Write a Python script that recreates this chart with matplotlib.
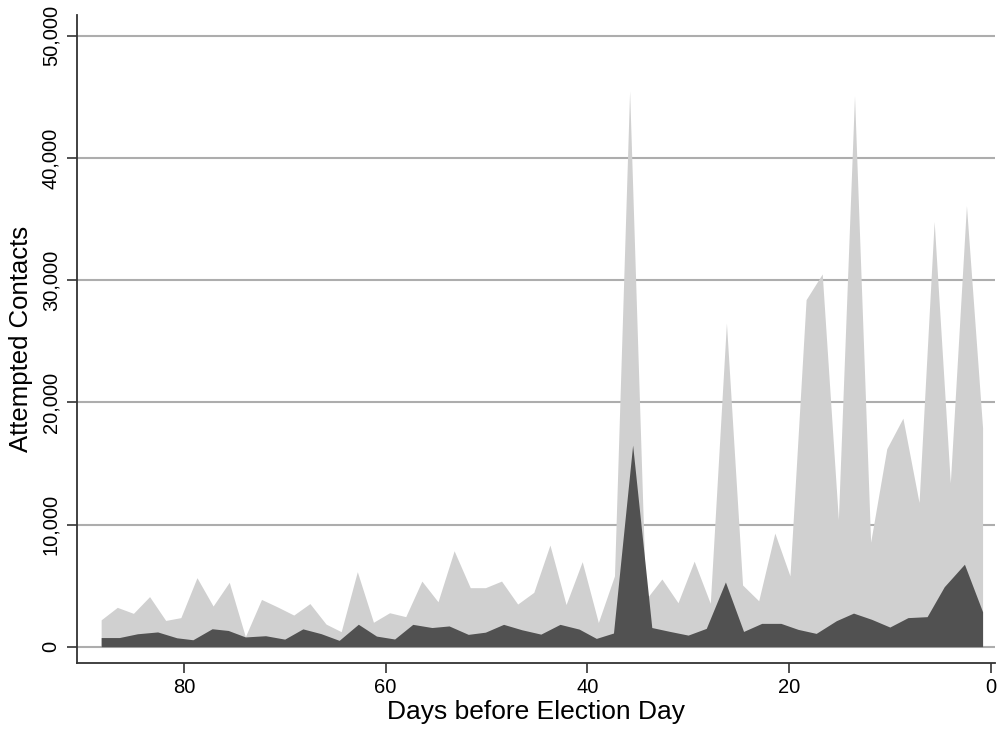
import matplotlib
matplotlib.use("Agg")
import matplotlib.pyplot as plt
from matplotlib.ticker import FuncFormatter

# Total attempted contacts (light grey area)
total_days = [88.2, 86.6, 85.0, 83.4, 81.8, 80.3, 78.7, 77.1, 75.5, 73.9,
              72.3, 70.7, 69.1, 67.5, 65.9, 64.4, 62.8, 61.2, 59.6, 58.0,
              56.4, 54.8, 53.2, 51.6, 50.1, 48.5, 46.9, 45.3, 43.7, 42.1,
              40.5, 38.9, 37.3, 35.8, 34.2, 32.6, 31.0, 29.4, 27.8, 26.2,
              24.6, 23.0, 21.4, 19.9, 18.3, 16.7, 15.1, 13.5, 11.9, 10.3,
              8.7, 7.1, 5.6, 4.0, 2.4, 0.8]
total_contacts = [2200, 3220, 2730, 4100, 2150, 2380, 5650, 3330, 5270, 820,
                  3870, 3250, 2590, 3530, 1850, 1230, 6140, 2000, 2780, 2460,
                  5370, 3680, 7850, 4830, 4830, 5370, 3490, 4450, 8320, 3450,
                  6960, 1980, 5800, 45500, 3850, 5540, 3600, 7000, 3550, 26500,
                  5050, 3760, 9300, 5800, 28400, 30500, 10400, 45100, 8550, 16200,
                  18700, 11800, 34800, 13400, 36100, 17900]

# Subset of contacts (dark grey area)
subset_days = [88.2, 86.4, 84.6, 82.6, 80.7, 79.1, 77.2, 75.6, 73.9, 71.9,
               70.0, 68.2, 66.4, 64.6, 62.7, 60.9, 59.1, 57.3, 55.4, 53.7,
               51.8, 50.1, 48.3, 46.5, 44.6, 42.7, 40.8, 39.1, 37.4, 35.5,
               33.6, 31.8, 30.0, 28.2, 26.3, 24.5, 22.7, 20.8, 19.1, 17.3,
               15.3, 13.6, 11.8, 10.0, 8.2, 6.3, 4.6, 2.6, 0.8]
subset_contacts = [750, 750, 1060, 1210, 730, 570, 1470, 1330, 800, 900,
                   620, 1460, 1070, 520, 1840, 870, 630, 1830, 1570, 1700,
                   1010, 1190, 1830, 1390, 1030, 1830, 1440, 680, 1120, 16500,
                   1570, 1250, 950, 1500, 5300, 1250, 1910, 1910, 1420, 1090,
                   2130, 2750, 2240, 1610, 2380, 2460, 4910, 6750, 2860]

x_ticks = [80, 60, 40, 20, 0]
y_ticks = [0, 10000, 20000, 30000, 40000, 50000]

plt.rcParams['font.family'] = ['Liberation Sans', 'DejaVu Sans']

fig = plt.figure(figsize=(10.02, 7.31), dpi=100)
ax = fig.add_axes([0.0768, 0.093, 0.9162, 0.8865])

ax.fill_between(total_days, 0, total_contacts, color='#d0d0d0', lw=0, zorder=2)
ax.fill_between(subset_days, 0, subset_contacts, color='#515151', lw=0, zorder=3)

ax.set_xlim(90.6, -0.43)
ax.set_ylim(-1334, 51694)
ax.set_xticks(x_ticks)
ax.set_yticks(y_ticks)
ax.yaxis.set_major_formatter(FuncFormatter(lambda v, p: f"{int(v):,}"))
ax.yaxis.grid(True, color='#adadad', lw=1.5, zorder=1)
ax.set_axisbelow(True)

for s in ['top', 'right']:
    ax.spines[s].set_visible(False)
for s in ['left', 'bottom']:
    ax.spines[s].set_color('#333333')
    ax.spines[s].set_linewidth(1.3)

ax.tick_params(axis='both', colors='#333333', width=1.2, length=7,
               labelsize=14.5, labelcolor='black')
ax.tick_params(axis='y', pad=5)
ax.tick_params(axis='x', pad=4)
for lab in ax.get_yticklabels():
    lab.set_rotation(90)
    lab.set_va('center')

ax.set_xlabel('Days before Election Day', fontsize=19, labelpad=2)
ax.set_ylabel('Attempted Contacts', fontsize=18.5, labelpad=6)

fig.savefig('out.png', dpi=100)
